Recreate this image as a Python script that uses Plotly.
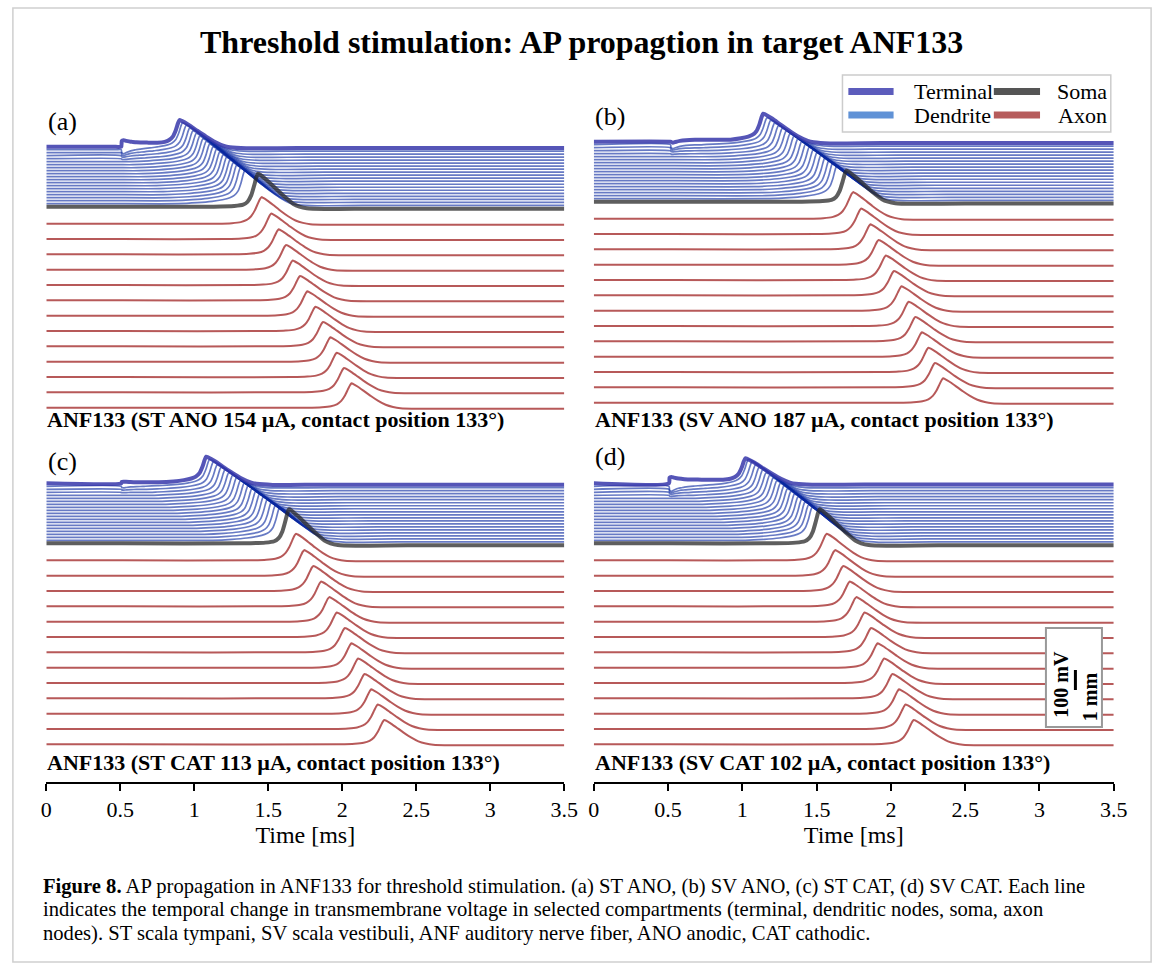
import numpy as np
import plotly.graph_objects as go

W, H = 1171, 967

# ---------------- data ----------------
PANEL_LETTERS = ["(a)", "(b)", "(c)", "(d)"]
PANEL_TITLES = [
    "ANF133 (ST ANO 154 µA, contact position 133°)",
    "ANF133 (SV ANO 187 µA, contact position 133°)",
    "ANF133 (ST CAT 113 µA, contact position 133°)",
    "ANF133 (SV CAT 102 µA, contact position 133°)",
]
X_TICKS = [0, 0.5, 1, 1.5, 2, 2.5, 3, 3.5]
X_TICK_TEXT = ["0", "0.5", "1", "1.5", "2", "2.5", "3", "3.5"]

STIM_TIME = [0.51, 0.52, 0.51, 0.51]          # ms
TERMINAL_PEAK = [0.90, 1.14, 1.08, 1.02]      # ms
SOMA_PEAK = [1.43, 1.70, 1.64, 1.52]          # ms

DEND_PEAKS_A = [0.92, 0.945, 0.968, 0.99, 1.013, 1.036, 1.058, 1.08, 1.103, 1.126,
                1.149, 1.171, 1.194, 1.217, 1.24, 1.262, 1.285, 1.31, 1.34]
DEND_PEAKS_B = [1.165, 1.19, 1.216, 1.242, 1.268, 1.294, 1.32, 1.346, 1.372, 1.398,
                1.424, 1.45, 1.476, 1.502, 1.528, 1.555, 1.582, 1.607, 1.635]
DEND_PEAKS_C = [1.103, 1.128, 1.154, 1.18, 1.206, 1.232, 1.258, 1.284, 1.31, 1.336,
                1.362, 1.388, 1.414, 1.44, 1.466, 1.492, 1.52, 1.548, 1.576]
DEND_PEAKS_D = [1.04, 1.064, 1.088, 1.112, 1.136, 1.159, 1.183, 1.207, 1.231, 1.255,
                1.279, 1.302, 1.326, 1.35, 1.374, 1.398, 1.421, 1.445, 1.469]

AXON_PEAKS_A = [1.454, 1.52, 1.57, 1.62, 1.665, 1.715, 1.764, 1.819, 1.87, 1.92, 1.963, 2.012, 2.063]
AXON_PEAKS_B = [1.745, 1.80, 1.862, 1.917, 1.966, 2.021, 2.072, 2.12, 2.165, 2.209, 2.253, 2.297, 2.352]
AXON_PEAKS_C = [1.687, 1.742, 1.804, 1.857, 1.912, 1.963, 2.018, 2.062, 2.107, 2.151, 2.196, 2.24, 2.284]
AXON_PEAKS_D = [1.568, 1.624, 1.679, 1.723, 1.767, 1.823, 1.867, 1.911, 1.955, 2.011, 2.055, 2.099, 2.154]

# amplitudes (mV)
TERMINAL_AMP = [133, 140, 133, 125]
SOMA_AMP = [165, 155, 170, 170]
DEND_AMP = [135, 137, 138, 140, 142, 143, 145, 147, 148, 150, 152, 153, 155, 157, 158, 160, 162, 163, 165]
AXON_AMP = [133, 128, 125, 124, 123, 122, 122, 122, 122, 122, 122, 122, 122]

# compartment positions below the terminal (mm); 100 mV is drawn as 1 mm
DEND_POS_MM = [0.15, 0.30, 0.45, 0.60, 0.75, 0.90, 1.05, 1.20, 1.35, 1.50,
               1.65, 1.80, 1.95, 2.10, 2.25, 2.40, 2.55, 2.70, 2.85]
SOMA_POS_MM = 3.0
AXON_POS_MM = [3.85, 4.62, 5.38, 6.15, 6.92, 7.68, 8.45, 9.22, 9.98, 10.75, 11.52, 12.28, 13.05]

# stimulus deflections (mV) for terminal and first four dendrite nodes
STIM_DEFL_A = [12, -22, -15, -8, -4]
STIM_DEFL_B = [-15, -20, -12, -6, -3]
STIM_DEFL_C = [3, -8, -4, -2, 0]
STIM_DEFL_D = [14, -25, -18, -10, -5]
TERMINAL_PLATEAU = [20, 10, 5, 18]  # mV

# AP waveform shapes (time from peak in ms, fraction of amplitude)
DEND_AP_DT = [-0.45, -0.32, -0.22, -0.15, -0.10, -0.07, -0.045, -0.025, -0.01, 0.0,
              0.015, 0.06, 0.12, 0.18, 0.24, 0.30, 0.34, 0.45, 0.8]
DEND_AP_V = [0.0, 0.03, 0.07, 0.12, 0.18, 0.25, 0.38, 0.62, 0.88, 1.0,
             0.97, 0.83, 0.60, 0.38, 0.18, 0.03, -0.02, -0.06, -0.05]
SOMA_AP_DT = [-0.30, -0.16, -0.10, -0.07, -0.045, -0.025, -0.01, 0.0,
              0.015, 0.06, 0.12, 0.18, 0.24, 0.28, 0.33, 0.45, 0.8]
SOMA_AP_V = [0.0, 0.02, 0.06, 0.15, 0.35, 0.65, 0.9, 1.0,
             0.97, 0.80, 0.55, 0.30, 0.08, 0.0, -0.05, -0.07, -0.06]
AXON_AP_DT = [-0.30, -0.20, -0.14, -0.10, -0.07, -0.045, -0.025, -0.01, 0.0,
              0.012, 0.04, 0.08, 0.13, 0.18, 0.23, 0.28, 0.33, 0.45]
AXON_AP_V = [0.0, 0.02, 0.06, 0.14, 0.28, 0.50, 0.75, 0.93, 1.0,
             0.97, 0.87, 0.70, 0.48, 0.28, 0.12, 0.03, -0.02, -0.04]
BLIP_DT = [-0.004, 0.0, 0.012, 0.03, 0.06, 0.1, 0.16, 0.24]
BLIP_V = [0.0, 0.7, 1.0, 0.75, 0.4, 0.18, 0.05, 0.0]

SCALE_MV = 100

DEND_PEAKS = [DEND_PEAKS_A, DEND_PEAKS_B, DEND_PEAKS_C, DEND_PEAKS_D]
AXON_PEAKS = [AXON_PEAKS_A, AXON_PEAKS_B, AXON_PEAKS_C, AXON_PEAKS_D]
STIM_DEFL = [STIM_DEFL_A, STIM_DEFL_B, STIM_DEFL_C, STIM_DEFL_D]

# ---------------- styling / geometry ----------------
SERIF = "Liberation Serif, Times New Roman, serif"
TERM_COLOR = "rgba(55,55,170,0.85)"
DEND_COLOR = "rgba(10,40,160,0.62)"
SOMA_COLOR = "rgba(40,40,40,0.75)"
AXON_COLOR = "rgba(170,60,60,0.85)"

PX_PER_MV = 0.2
X_DOMS = [(41, 568), (598, 1127), (41, 568), (598, 1127)]
BASE_PX = [146.7, 141.7, 483.3, 483.3]


def build(peak, amp, dts, vs, t_stim, blip=0.0, plateau=0.0):
    knots = [0.0, 3.5, t_stim - 0.004, t_stim] + [peak + d for d in dts]
    if blip:
        knots += [t_stim + d for d in BLIP_DT]
    t = np.unique(np.clip(np.array(knots), 0.0, 3.5))
    ap = amp * np.interp(t - peak, dts, vs, left=0.0, right=vs[-1])
    ap = np.where(t >= t_stim, ap, 0.0)
    if plateau:
        pl = np.where((t >= t_stim) & (t <= peak), plateau, -1e9)
        ap = np.maximum(ap, pl)
    v = ap + blip * np.interp(t - t_stim, BLIP_DT, BLIP_V, left=0.0, right=0.0)
    return t, v


fig = go.Figure()

for p in range(4):
    xa = "x" if p == 0 else f"x{p+1}"
    ya = "y" if p == 0 else f"y{p+1}"
    ts = STIM_TIME[p]
    defl = STIM_DEFL[p]

    def add(t, v, pos_mm, color, width):
        fig.add_trace(go.Scatter(
            x=t, y=v - pos_mm * 100, mode="lines", xaxis=xa, yaxis=ya,
            line=dict(color=color, width=width, shape="spline", smoothing=0.6),
            hoverinfo="skip", showlegend=False))

    # dendrites
    for k, pk in enumerate(DEND_PEAKS[p]):
        b = defl[k + 1] if k + 1 < len(defl) else 0.0
        t, v = build(pk, DEND_AMP[k], DEND_AP_DT, DEND_AP_V, ts, blip=b)
        add(t, v, DEND_POS_MM[k], DEND_COLOR, 1.7)
    # terminal
    t, v = build(TERMINAL_PEAK[p], TERMINAL_AMP[p], DEND_AP_DT, DEND_AP_V, ts,
                 blip=defl[0], plateau=TERMINAL_PLATEAU[p])
    add(t, v, 0.0, TERM_COLOR, 4)
    # soma
    t, v = build(SOMA_PEAK[p], SOMA_AMP[p], SOMA_AP_DT, SOMA_AP_V, ts)
    add(t, v, SOMA_POS_MM, SOMA_COLOR, 4)
    # axon nodes
    for k, pk in enumerate(AXON_PEAKS[p]):
        t, v = build(pk, AXON_AMP[k], AXON_AP_DT, AXON_AP_V, ts)
        add(t, v, AXON_POS_MM[k], AXON_COLOR, 2)

layout = dict(
    width=W, height=H, autosize=False,
    margin=dict(l=0, r=0, t=0, b=0),
    paper_bgcolor="white", plot_bgcolor="rgba(0,0,0,0)",
    showlegend=False,
)

for p in range(4):
    xkey = "xaxis" if p == 0 else f"xaxis{p+1}"
    ykey = "yaxis" if p == 0 else f"yaxis{p+1}"
    x0, x1 = X_DOMS[p]
    base = BASE_PX[p]
    top_px, bot_px = base - 45, base + 275
    yr = [-(bot_px - base) / PX_PER_MV, (base - top_px) / PX_PER_MV]
    ydom = [(H - bot_px) / H, (H - top_px) / H]
    layout[ykey] = dict(domain=ydom, range=yr, visible=False,
                        anchor="x" if p == 0 else f"x{p+1}", fixedrange=True)
    if p < 2:
        layout[xkey] = dict(domain=[x0 / W, x1 / W], range=[0, 3.5], visible=False,
                            anchor="y" if p == 0 else f"y{p+1}")
    else:
        layout[xkey] = dict(
            domain=[x0 / W, x1 / W], range=[0, 3.5], anchor="free",
            position=(H - 783) / H,
            showline=True, linecolor="black", linewidth=2,
            ticks="outside", ticklen=7, tickwidth=2, tickcolor="black",
            tickvals=X_TICKS, ticktext=X_TICK_TEXT,
            tickfont=dict(family=SERIF, size=22, color="black"),
            showgrid=False, zeroline=False,
            title=dict(text="Time [ms]", font=dict(family=SERIF, size=24, color="black"),
                       standoff=4),
        )

fig.update_layout(**layout)

ann = []
shapes = []


def px(x):
    return x / W


def py(y):
    return 1 - y / H


ann.append(dict(text="<b>Threshold stimulation: AP propagtion in target ANF133</b>",
                x=px(586), y=py(42), xref="paper", yref="paper", showarrow=False,
                xanchor="center", yanchor="middle",
                font=dict(family=SERIF, size=32, color="black")))

LETTER_POS = [(57.5, 122), (614, 117), (57.5, 462), (614, 457)]
for (lx, ly), txt in zip(LETTER_POS, PANEL_LETTERS):
    ann.append(dict(text=txt, x=px(lx), y=py(ly), xref="paper", yref="paper",
                    showarrow=False, xanchor="center", yanchor="middle",
                    font=dict(family=SERIF, size=26, color="black")))

LABEL_POS = [(40, 419), (597, 419), (40, 762), (597, 762)]
for (lx, ly), txt in zip(LABEL_POS, PANEL_TITLES):
    ann.append(dict(text=f"<b>{txt}</b>", x=px(lx), y=py(ly), xref="paper", yref="paper",
                    showarrow=False, xanchor="left", yanchor="middle",
                    font=dict(family=SERIF, size=22, color="black")))

# legend (manual, 2 x 2)
shapes.append(dict(type="rect", xref="paper", yref="paper",
                   x0=px(851), x1=px(1124), y0=py(75), y1=py(132),
                   line=dict(color="#cccccc", width=1.5), fillcolor="white", layer="above"))
LEG = [("Terminal", "rgb(92,92,188)", 857, 903, 91.5, 922, "left"),
       ("Dendrite", "rgb(96,146,214)", 857, 903, 115, 922, "left"),
       ("Soma", "rgb(85,85,85)", 1005, 1052, 91.5, 1122, "right"),
       ("Axon", "rgb(182,92,92)", 1005, 1052, 115, 1122, "right")]
for name, col, sx0, sx1, sy, tx, anc in LEG:
    shapes.append(dict(type="line", xref="paper", yref="paper",
                       x0=px(sx0), x1=px(sx1), y0=py(sy), y1=py(sy),
                       line=dict(color=col, width=7), layer="above"))
    ann.append(dict(text=name, x=px(tx), y=py(sy), xref="paper", yref="paper",
                    showarrow=False, xanchor=anc, yanchor="middle",
                    font=dict(family=SERIF, size=22, color="black")))

# scale bar box in panel (d)
shapes.append(dict(type="rect", xref="paper", yref="paper",
                   x0=px(1058), x1=px(1115), y0=py(628), y1=py(727),
                   line=dict(color="#999999", width=2), fillcolor="white", layer="above"))
bar_bottom = -(690 - BASE_PX[3]) / PX_PER_MV
shapes.append(dict(type="line", xref="paper", yref="y4",
                   x0=px(1088), x1=px(1088), y0=bar_bottom, y1=bar_bottom + SCALE_MV,
                   line=dict(color="black", width=3), layer="above"))
ann.append(dict(text="<b>100 mV</b>", x=px(1073), y=py(684), xref="paper", yref="paper",
                showarrow=False, textangle=-90, xanchor="center", yanchor="middle",
                font=dict(family=SERIF, size=20, color="black")))
ann.append(dict(text="<b>1 mm</b>", x=px(1103), y=py(697), xref="paper", yref="paper",
                showarrow=False, textangle=-90, xanchor="center", yanchor="middle",
                font=dict(family=SERIF, size=20, color="black")))

# caption
CAPTION = [
    "<b>Figure 8.</b> AP propagation in ANF133 for threshold stimulation. (a) ST ANO, (b) SV ANO, (c) ST CAT, (d) SV CAT. Each line",
    "indicates the temporal change in transmembrane voltage in selected compartments (terminal, dendritic nodes, soma, axon",
    "nodes). ST scala tympani, SV scala vestibuli, ANF auditory nerve fiber, ANO anodic, CAT cathodic.",
]
for i, line in enumerate(CAPTION):
    ann.append(dict(text=line, x=px(36), y=py(886 + 23.5 * i), xref="paper", yref="paper",
                    showarrow=False, xanchor="left", yanchor="middle",
                    font=dict(family=SERIF, size=20.6, color="black")))

# outer frame
shapes.append(dict(type="rect", xref="paper", yref="paper",
                   x0=px(7), x1=px(1165), y0=py(962), y1=py(8),
                   line=dict(color="#cfcfcf", width=1.5), layer="below"))

fig.update_layout(annotations=ann, shapes=shapes)
fig.write_html("out.html")
